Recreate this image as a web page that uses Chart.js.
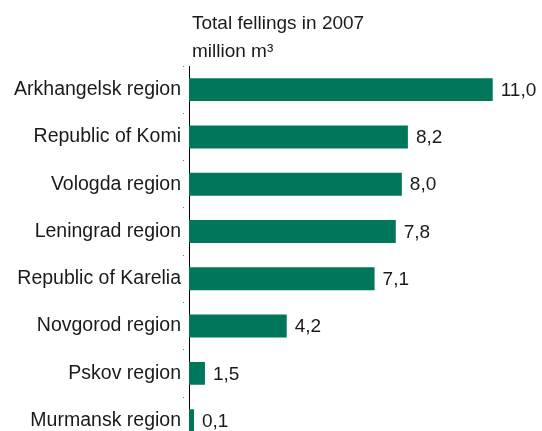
<!DOCTYPE html>
<html>
<head>
<meta charset="utf-8">
<script src="https://cdn.jsdelivr.net/npm/chart.js@4/dist/chart.umd.min.js"></script>
<style>
  html, body { margin: 0; padding: 0; background: #fff; overflow: hidden; }
  #wrap { position: relative; width: 542px; height: 431px; overflow: hidden; }
  #box { position: absolute; left: 0; top: 0; width: 542px; height: 458px; }
</style>
</head>
<body>
<div id="wrap"><div id="box"><canvas id="c"></canvas></div></div>
<script>
const categories = ["Arkhangelsk region", "Republic of Komi", "Vologda region", "Leningrad region",
                    "Republic of Karelia", "Novgorod region", "Pskov region", "Murmansk region"];
const fellings = [11.0, 8.2, 8.0, 7.8, 7.1, 4.2, 1.5, 0.1];
const titleLines = ["Total fellings in 2007", "million m\u00B3"];
const xMin = 0.974;
const xMax = 12.0;

const FONT = '"Liberation Sans", Arial, sans-serif';
const TEXT = '#1a1a1a';

const overlay = {
  id: 'overlay',
  afterDatasetsDraw(chart) {
    const ctx = chart.ctx;
    const meta = chart.getDatasetMeta(0);
    ctx.save();
    ctx.font = '19px ' + FONT;
    ctx.fillStyle = TEXT;
    ctx.textBaseline = 'middle';
    ctx.textAlign = 'left';
    meta.data.forEach((bar, i) => {
      ctx.fillText(fellings[i].toFixed(1).replace('.', ','), bar.x + 8, bar.y + 1);
    });
    ctx.textBaseline = 'alphabetic';
    const left = chart.chartArea.left + 3;
    ctx.fillText(titleLines[0], left, 29);
    ctx.fillText(titleLines[1], left, 56.5);
    ctx.restore();
  }
};

new Chart(document.getElementById('c'), {
  type: 'bar',
  data: {
    labels: categories,
    datasets: [{
      data: fellings,
      backgroundColor: '#00765A',
      borderWidth: 0,
      barPercentage: 0.485,
      categoryPercentage: 1,
      minBarLength: 5,
      clip: 0
    }]
  },
  options: {
    indexAxis: 'y',
    responsive: true,
    maintainAspectRatio: false,
    animation: false,
    layout: { padding: { top: 66, bottom: 0, right: 19, left: 0 } },
    plugins: { legend: { display: false }, tooltip: { enabled: false }, title: { display: false } },
    scales: {
      x: { display: false, min: xMin, max: xMax },
      y: {
        afterFit(scale) { scale.width = 189; },
        border: { display: true, color: '#000', width: 1 },
        grid: { display: true, drawOnChartArea: false, drawTicks: true, tickLength: 6,
                color: '#777', tickBorderDash: [1, 20] },
        ticks: { color: TEXT, padding: 2, font: { family: FONT, size: 19.5 } }
      }
    }
  },
  plugins: [overlay]
});
</script>
</body>
</html>
